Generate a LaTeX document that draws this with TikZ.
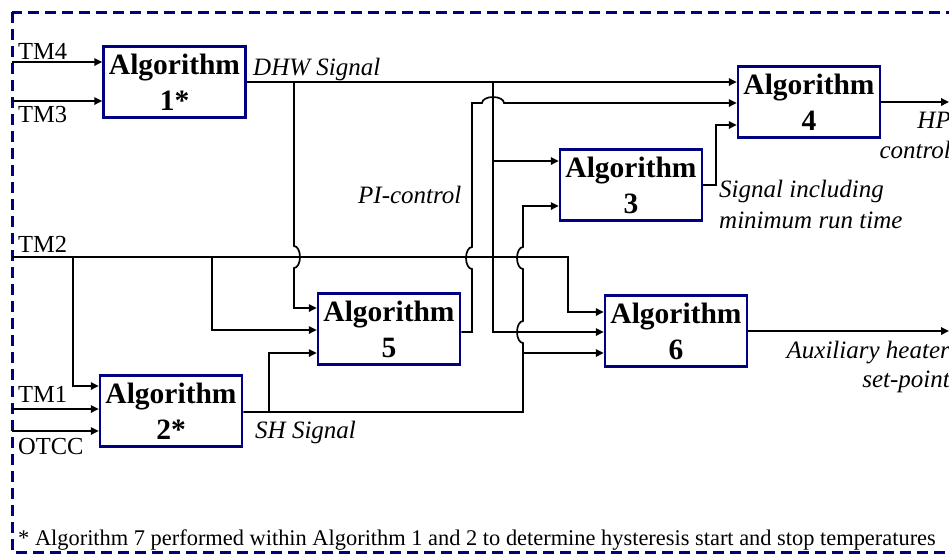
\documentclass[tikz,border=0pt]{standalone}
\usepackage{fontspec}
\setmainfont{Liberation Serif}
\usetikzlibrary{arrows.meta}
\definecolor{navyb}{RGB}{0,0,128}
\begin{document}
\begin{tikzpicture}[x=1pt,y=-1pt,
  algbox/.style={draw=navyb, line width=2.5pt, minimum width=142pt, minimum height=71pt, inner sep=0pt, align=center, font=\fontsize{29.5}{36}\selectfont\bfseries},
  wire/.style={line width=1.7pt, line join=miter},
  arr/.style={wire, -{Triangle[length=8pt,width=7.5pt]}},
  lbl/.style={font=\fontsize{24.5}{30}\selectfont, inner sep=0pt},
  ilbl/.style={font=\fontsize{25}{30}\selectfont\itshape, inner sep=0pt},
  foot/.style={font=\fontsize{22.4}{27}\selectfont, inner sep=0pt},
]
\useasboundingbox (0,0) rectangle (949,558);
\clip (0,0) rectangle (949,558);
\draw[navyb, line width=3pt, dash pattern=on 11pt off 6pt] (12,12) rectangle (990,552);

% boxes
\node[algbox] (alg1) at (174.5,82) {Algorithm\\1*};
\node[algbox] (alg2) at (171,411) {Algorithm\\2*};
\node[algbox] (alg3) at (631,185) {Algorithm\\3};
\node[algbox] (alg4) at (809,102) {Algorithm\\4};
\node[algbox] (alg5) at (389,329) {Algorithm\\5};
\node[algbox] (alg6) at (676,331) {Algorithm\\6};

% labels
\node[lbl, anchor=base west] (ltm4) at (18,59) {TM4};
\node[lbl, anchor=base west] (ltm3) at (18,122) {TM3};
\node[lbl, anchor=base west] (ltm2) at (18,252) {TM2};
\node[lbl, anchor=base west] (ltm1) at (18,402) {TM1};
\node[lbl, anchor=base west] (lot) at (18,454) {OTCC};
\node[ilbl, anchor=base west] (ldhw) at (253,75) {DHW Signal};
\node[ilbl, anchor=base west] (lpi) at (358,203) {PI-control};
\node[ilbl, anchor=base west] (lsig1) at (719,197) {Signal including};
\node[ilbl, anchor=base west] (lsig2) at (719,228) {minimum run time};
\node[ilbl, anchor=base east] (lhp1) at (951,128) {HP};
\node[ilbl, anchor=base east] (lhp2) at (951,158) {control};
\node[ilbl, anchor=base east] (laux1) at (950,358) {Auxiliary heater};
\node[ilbl, anchor=base east] (laux2) at (950,387) {set-point};
\node[ilbl, anchor=base west] (lsh) at (255,438) {SH Signal};
\node[foot, anchor=base west] (lfoot) at (18,545) {* Algorithm 7 performed within Algorithm 1 and 2 to determine hysteresis start and stop temperatures};

% left inputs
\coordinate (pTM4) at (12,62);
\coordinate (pTM3) at (12,101);
\coordinate (pTM2) at (12,257);
\coordinate (pTM1) at (12,409);
\coordinate (pOT) at (12,431);
\draw[arr] (pTM4) -- (pTM4 -| alg1.west);
\draw[arr] (pTM3) -- (pTM3 -| alg1.west);
\draw[arr] (pTM1) -- (pTM1 -| alg2.west);
\draw[arr] (pOT) -- (pOT -| alg2.west);

% TM2
\coordinate (t2a) at (73,257);
\coordinate (t2b) at (212,257);
\coordinate (t2c) at (568,257);
\coordinate (t2d) at (568,312);
\coordinate (t2e) at (73,386);
\coordinate (t2f) at (212,330);
\draw[arr] (pTM2) -- (t2c) -- (t2d) -- (t2d -| alg6.west);
\draw[arr] (t2a) -- (t2e) -- (t2e -| alg2.west);
\draw[arr] (t2b) -- (t2f) -- (t2f -| alg5.west);

% DHW signal
\draw[arr] (alg1.east) -- (alg1.east -| alg4.west);
\coordinate (d1) at (294,82);
\coordinate (d1b) at (294,246);
\coordinate (d1c) at (294,308);
\draw[arr] (d1) -- (d1b) arc[start angle=-90,end angle=90,x radius=6,y radius=11] -- (d1c) -- (d1c -| alg5.west);
\coordinate (d2) at (493,82);
\coordinate (d2b) at (493,161);
\coordinate (d2c) at (493,332);
\draw[arr] (d2) -- (d2c) -- (d2c -| alg6.west);
\draw[arr] (d2b) -- (d2b -| alg3.west);

% PI control
\coordinate (p1) at (472,332);
\coordinate (p2) at (472,269);
\coordinate (p3) at (472,103);
\coordinate (p4) at (482,103);
\draw[arr] (p1 -| alg5.east) -- (p1) -- (p2) arc[start angle=90,end angle=270,x radius=6,y radius=11] -- (p3) -- (p4) arc[start angle=180,end angle=360,x radius=11,y radius=6] -- (p4 -| alg4.west);

% SH signal
\coordinate (s1) at (523,412);
\coordinate (s2) at (523,343);
\coordinate (s2b) at (523,269);
\coordinate (s3) at (523,206);
\draw[arr] (s1 -| alg2.east) -- (s1) -- (s2) arc[start angle=90,end angle=270,x radius=6,y radius=11] -- (s2b) arc[start angle=90,end angle=270,x radius=6,y radius=11] -- (s3) -- (s3 -| alg3.west);
\coordinate (s4) at (269,412);
\coordinate (s5) at (269,353);
\draw[arr] (s4) -- (s5) -- (s5 -| alg5.west);
\coordinate (s6) at (523,353);
\draw[arr] (s6) -- (s6 -| alg6.west);

% Alg3 out
\coordinate (q1) at (716,185);
\coordinate (q2) at (716,125);
\draw[arr] (alg3.east) -- (q1) -- (q2) -- (q2 -| alg4.west);

% outputs
\coordinate (o4) at (949,102);
\coordinate (o6) at (949,331);
\draw[arr] (alg4.east) -- (o4);
\draw[arr] (alg6.east) -- (o6);
\end{tikzpicture}
\end{document}
